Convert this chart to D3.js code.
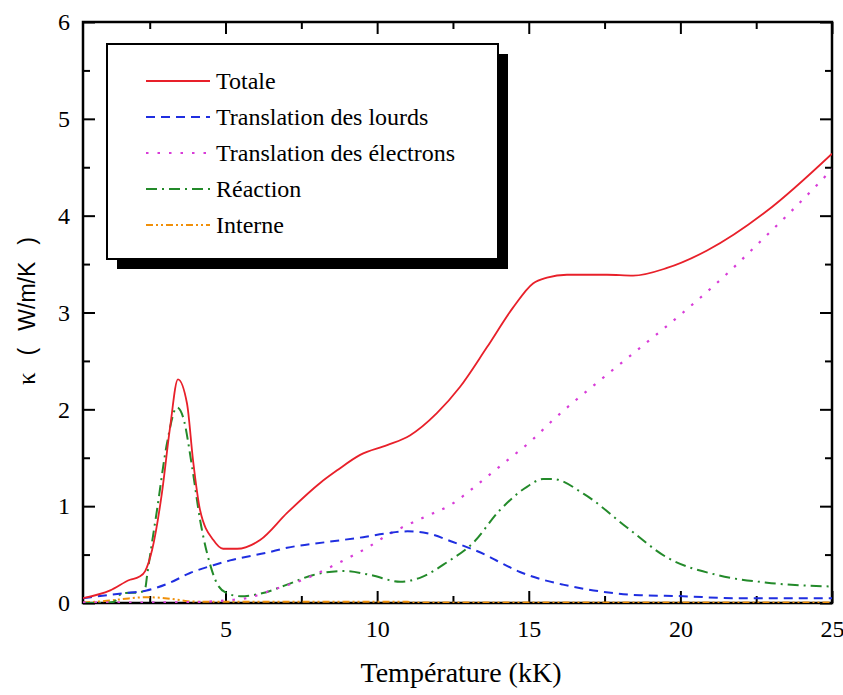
<!DOCTYPE html>
<html>
<head>
<meta charset="utf-8">
<script src="https://cdn.jsdelivr.net/npm/d3@7"></script>
</head>
<body style="margin:0">
<script>
// values (T in kK, kappa in W/m/K)
let totaleT = [0.3, 1.2, 1.85, 2.15, 2.35, 2.58, 2.9, 3.17, 3.43, 3.73, 3.93, 4.16, 4.6, 4.92, 5.38, 6.14, 7.03, 8.12, 8.68, 9.44, 10.33, 11.08, 11.97, 12.73, 13.62, 14.48, 15.14, 15.6, 16.26, 17.58, 18.44, 19.56, 20.88, 22.86, 25];
let totaleK = [0.05, 0.13, 0.24, 0.27, 0.33, 0.55, 1.13, 1.81, 2.31, 2.06, 1.47, 0.96, 0.65, 0.56, 0.56, 0.65, 0.93, 1.24, 1.37, 1.53, 1.63, 1.73, 1.96, 2.23, 2.64, 3.05, 3.30, 3.36, 3.39, 3.39, 3.38, 3.46, 3.64, 4.05, 4.64];

let lourdsT = [0.3, 1.62, 2.4, 3.17, 3.83, 4.6, 5.15, 6.37, 7.03, 8.35, 9.54, 10.33, 11.0, 11.65, 12.5, 13.62, 14.05, 14.71, 15.47, 16.13, 17.35, 18.67, 20.09, 21.74, 25];
let lourdsK = [0.05, 0.10, 0.13, 0.21, 0.31, 0.39, 0.44, 0.52, 0.57, 0.63, 0.68, 0.72, 0.74, 0.72, 0.63, 0.49, 0.42, 0.32, 0.24, 0.19, 0.12, 0.08, 0.07, 0.05, 0.05];

let electronsT = [0.3, 2, 4, 5.15, 5.7, 6.5, 7.71, 8.45, 9.2, 9.67, 10.33, 11.51, 12.4, 13.49, 14.28, 15.1, 15.8, 17.35, 18.57, 20.09, 21.64, 22.4, 24.7, 25];
let electronsK = [0.005, 0.005, 0.01, 0.03, 0.05, 0.13, 0.26, 0.37, 0.49, 0.57, 0.70, 0.88, 1.01, 1.27, 1.47, 1.68, 1.89, 2.30, 2.61, 3.00, 3.43, 3.66, 4.38, 4.48];

let reactionT = [0.3, 1.0, 1.3, 1.59, 2.18, 2.35, 2.42, 2.74, 3.07, 3.4, 3.6, 3.9, 4.16, 4.49, 4.72, 5.05, 5.5, 6.2, 7.03, 7.9, 8.9, 9.77, 10.76, 11.41, 12.3, 13.16, 14.05, 14.94, 15.47, 15.8, 16.8, 18.24, 19.56, 21.2, 22.86, 25];
let reactionK = [0, 0, 0.01, 0.10, 0.11, 0.15, 0.30, 0.96, 1.65, 2.02, 1.92, 1.40, 0.86, 0.40, 0.20, 0.10, 0.07, 0.10, 0.19, 0.29, 0.33, 0.29, 0.22, 0.26, 0.42, 0.62, 0.96, 1.20, 1.28, 1.28, 1.13, 0.78, 0.47, 0.29, 0.21, 0.17];

let interneT = [0.3, 1.0, 1.6, 2.4, 3.0, 3.5, 3.9, 4.5, 11, 11.2, 25];
let interneK = [0.005, 0.02, 0.04, 0.06, 0.05, 0.03, 0.015, 0.012, 0.012, 0.005, 0.005];

let seriesNames = ["Totale", "Translation des lourds", "Translation des électrons", "Réaction", "Interne"];
let xMajorTicks = [5, 10, 15, 20, 25];
let yMajorTicks = [0, 1, 2, 3, 4, 5, 6];

let w = 843, h = 695;
let mLeft = 83, mRight = 832, mTop = 22, mBottom = 603;

let serifFont = "Liberation Serif";
let sansFont = "Liberation Sans";

let viz = d3.select("body").append("svg")
    .attr("width", w)
    .attr("height", h)
    .attr("font-family", serifFont);

let xScale = d3.scaleLinear().domain([0.3, 25]).range([mLeft, mRight]);
let yScale = d3.scaleLinear().domain([0, 6]).range([mBottom, mTop]);

// minor tick positions
let xMinor = d3.range(2.5, 25, 5);
let yMinor = d3.range(0.5, 6, 1);

function styleAxis(g){
  g.attr("font-family", serifFont).attr("font-size", 24);
  g.select(".domain").remove();
  g.selectAll("line").attr("stroke", "black").attr("stroke-width", 2);
  g.selectAll("text").attr("fill", "black");
}

// bottom axis with labels
viz.append("g")
  .attr("transform", "translate(0," + mBottom + ")")
  .call(d3.axisBottom(xScale).tickValues(xMajorTicks).tickFormat(d3.format("d")).tickSize(-12).tickPadding(17))
  .call(styleAxis);
viz.append("g")
  .attr("transform", "translate(0," + mBottom + ")")
  .call(d3.axisBottom(xScale).tickValues(xMinor).tickSize(-7).tickFormat(""))
  .call(styleAxis);

// top axis, ticks only
viz.append("g")
  .attr("transform", "translate(0," + mTop + ")")
  .call(d3.axisTop(xScale).tickValues(xMajorTicks).tickSize(-12).tickFormat(""))
  .call(styleAxis);
viz.append("g")
  .attr("transform", "translate(0," + mTop + ")")
  .call(d3.axisTop(xScale).tickValues(xMinor).tickSize(-7).tickFormat(""))
  .call(styleAxis);

// left axis
viz.append("g")
  .attr("transform", "translate(" + mLeft + ",0)")
  .call(d3.axisLeft(yScale).tickValues(yMajorTicks).tickFormat(d3.format("d")).tickSize(-12).tickPadding(13))
  .call(styleAxis);
viz.append("g")
  .attr("transform", "translate(" + mLeft + ",0)")
  .call(d3.axisLeft(yScale).tickValues(yMinor).tickSize(-7).tickFormat(""))
  .call(styleAxis);

// right axis
viz.append("g")
  .attr("transform", "translate(" + mRight + ",0)")
  .call(d3.axisRight(yScale).tickValues(yMajorTicks).tickSize(-12).tickFormat(""))
  .call(styleAxis);
viz.append("g")
  .attr("transform", "translate(" + mRight + ",0)")
  .call(d3.axisRight(yScale).tickValues(yMinor).tickSize(-7).tickFormat(""))
  .call(styleAxis);

viz.append("clipPath").attr("id", "plotclip")
  .append("rect")
  .attr("x", mLeft).attr("y", mTop - 2)
  .attr("width", mRight - mLeft).attr("height", mBottom - mTop + 2);

let lineGen = d3.line()
  .x(d => xScale(d[0]))
  .y(d => yScale(d[1]))
  .curve(d3.curveMonotoneX);

let series = [
  {name: seriesNames[0], t: totaleT, k: totaleK, color: "#e8202a", dash: null, width: 1.8},
  {name: seriesNames[1], t: lourdsT, k: lourdsK, color: "#1f2ee0", dash: "9,6", width: 2},
  {name: seriesNames[2], t: electronsT, k: electronsK, color: "#d83cd8", dash: "2.5,9", width: 2.2},
  {name: seriesNames[3], t: reactionT, k: reactionK, color: "#238a2a", dash: "11,5,2,5", width: 2},
  {name: seriesNames[4], t: interneT, k: interneK, color: "#f0900a", dash: "7,3,2,3,2,3", width: 2}
];

// frame under the curves so the near-zero curves stay visible
viz.append("rect")
  .attr("x", mLeft).attr("y", mTop)
  .attr("width", mRight - mLeft).attr("height", mBottom - mTop)
  .attr("fill", "none")
  .attr("stroke", "black")
  .attr("stroke-width", 2.5);

let curves = viz.append("g").attr("clip-path", "url(#plotclip)");
series.slice().reverse().forEach(function(s){
  let pts = s.t.map((t, i) => [t, s.k[i]]);
  curves.append("path")
    .datum(pts)
    .attr("d", lineGen)
    .attr("fill", "none")
    .attr("stroke", s.color)
    .attr("stroke-width", s.width)
    .attr("stroke-dasharray", s.dash);
});

// legend with drop shadow
let legend = viz.append("g");
legend.append("rect")
  .attr("x", 117).attr("y", 54)
  .attr("width", 391).attr("height", 215)
  .attr("fill", "black");
legend.append("rect")
  .attr("x", 107).attr("y", 44)
  .attr("width", 391).attr("height", 215)
  .attr("fill", "white")
  .attr("stroke", "black")
  .attr("stroke-width", 2);

series.forEach(function(s, i){
  let yy = 81 + i * 36;
  legend.append("line")
    .attr("x1", 146).attr("x2", 210)
    .attr("y1", yy).attr("y2", yy)
    .attr("stroke", s.color)
    .attr("stroke-width", s.width)
    .attr("stroke-dasharray", s.dash);
  legend.append("text")
    .attr("x", 216).attr("y", yy + 8)
    .attr("font-family", serifFont)
    .attr("font-size", 24)
    .text(s.name);
});

// axis titles
viz.append("text")
  .attr("x", 461).attr("y", 682)
  .attr("text-anchor", "middle")
  .attr("font-family", serifFont)
  .attr("font-size", 28)
  .text("Température (kK)");

// y title: spaced out like the original
let ylab = viz.append("text")
  .attr("transform", "translate(35,385) rotate(-90)")
  .attr("text-anchor", "start")
  .attr("font-family", sansFont)
  .attr("font-size", 23);
ylab.append("tspan").attr("font-family", serifFont).attr("font-size", 25).text("κ");
ylab.append("tspan").attr("dx", 17).text("(");
ylab.append("tspan").attr("dx", 17).text("W/m/K");
ylab.append("tspan").attr("dx", 17).text(")");
</script>
</body>
</html>
